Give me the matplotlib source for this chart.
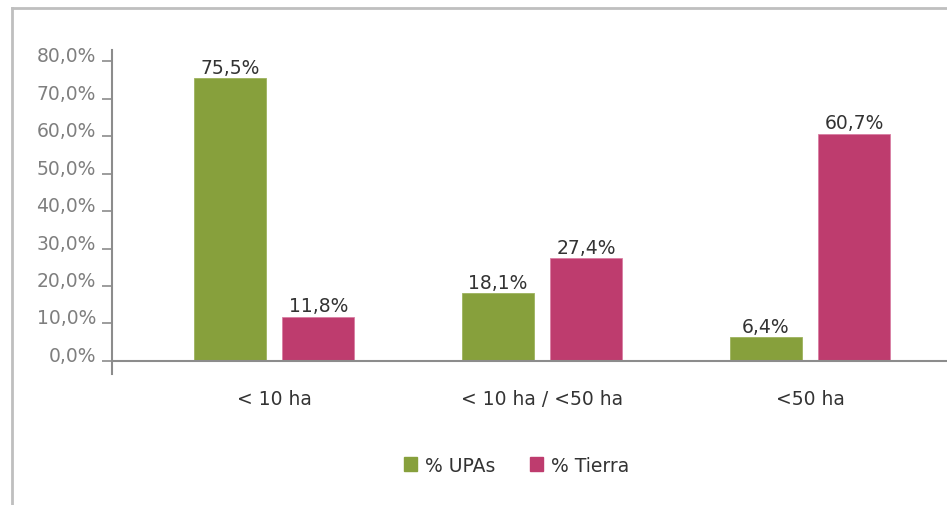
import matplotlib
matplotlib.use("Agg")
import matplotlib.pyplot as plt
from matplotlib.lines import Line2D
from matplotlib.patches import Patch
import numpy as np

plt.rcParams['font.family'] = ['DejaVu Sans']

categories = ["< 10 ha", "< 10 ha / <50 ha", "<50 ha"]
upas = [75.5, 18.1, 6.4]
tierra = [11.8, 27.4, 60.7]
upas_labels = ["75,5%", "18,1%", "6,4%"]
tierra_labels = ["11,8%", "27,4%", "60,7%"]
yticks = [0, 10, 20, 30, 40, 50, 60, 70, 80]
ytick_labels = ["0,0%", "10,0%", "20,0%", "30,0%", "40,0%", "50,0%", "60,0%", "70,0%", "80,0%"]
series_names = ["% UPAs", "% Tierra"]

GREEN = "#87A03C"
PINK = "#BE3C6E"
AXIS = "#8C8C8C"
TICKTXT = "#7F7F7F"
TXT = "#333333"

fig = plt.figure(figsize=(9.47, 5.06), dpi=100)
ax = fig.add_axes([0.1183, 0.2589, 0.8817, 0.6400])

x = np.arange(len(categories))
w = 0.268
off = 0.165
b1 = ax.bar(x - off, upas, width=w, color=GREEN, edgecolor="#9DB35E", linewidth=0.6)
b2 = ax.bar(x + off, tierra, width=w, color=PINK, edgecolor="#D97FA3", linewidth=0.6)

ax.bar_label(b1, labels=upas_labels, padding=1, color=TXT, fontsize=13.5)
ax.bar_label(b2, labels=tierra_labels, padding=1, color=TXT, fontsize=13.5)

ax.set_xlim(-0.6045, 2.511)
ax.set_ylim(-3.5, 83)

for s in ["top", "right", "bottom"]:
    ax.spines[s].set_visible(False)
ax.spines["left"].set_color(AXIS)
ax.spines["left"].set_linewidth(1.5)
ax.axhline(0, color=AXIS, linewidth=1.5, zorder=3)

ax.set_yticks(yticks)
ax.set_yticklabels(ytick_labels)
ax.tick_params(axis="y", direction="out", length=7, width=1.2, color=AXIS,
               labelcolor=TICKTXT, labelsize=13.5, pad=4.5)
for lab in ax.get_yticklabels():
    lab.set_verticalalignment("baseline")

ax.set_xticks(x)
ax.set_xticklabels(categories)
ax.tick_params(axis="x", length=0, labelcolor=TXT, labelsize=13.5, pad=11)

handles = [Patch(facecolor=GREEN, edgecolor=GREEN), Patch(facecolor=PINK, edgecolor=PINK)]
fig.legend(handles, series_names, loc="center", bbox_to_anchor=(0.5454, 0.079),
           ncol=2, frameon=False, fontsize=13.5, handlelength=0.7, handleheight=0.7,
           handletextpad=0.4, columnspacing=1.85, labelcolor=TXT)

# outer frame (top and left edges)
fig.add_artist(Line2D([12/947, 1.0], [1 - 9/506, 1 - 9/506], transform=fig.transFigure,
                      color="#BFBFBF", linewidth=2))
fig.add_artist(Line2D([12/947, 12/947], [0, 1 - 9/506], transform=fig.transFigure,
                      color="#BFBFBF", linewidth=2))

fig.savefig("out.png", dpi=100)
